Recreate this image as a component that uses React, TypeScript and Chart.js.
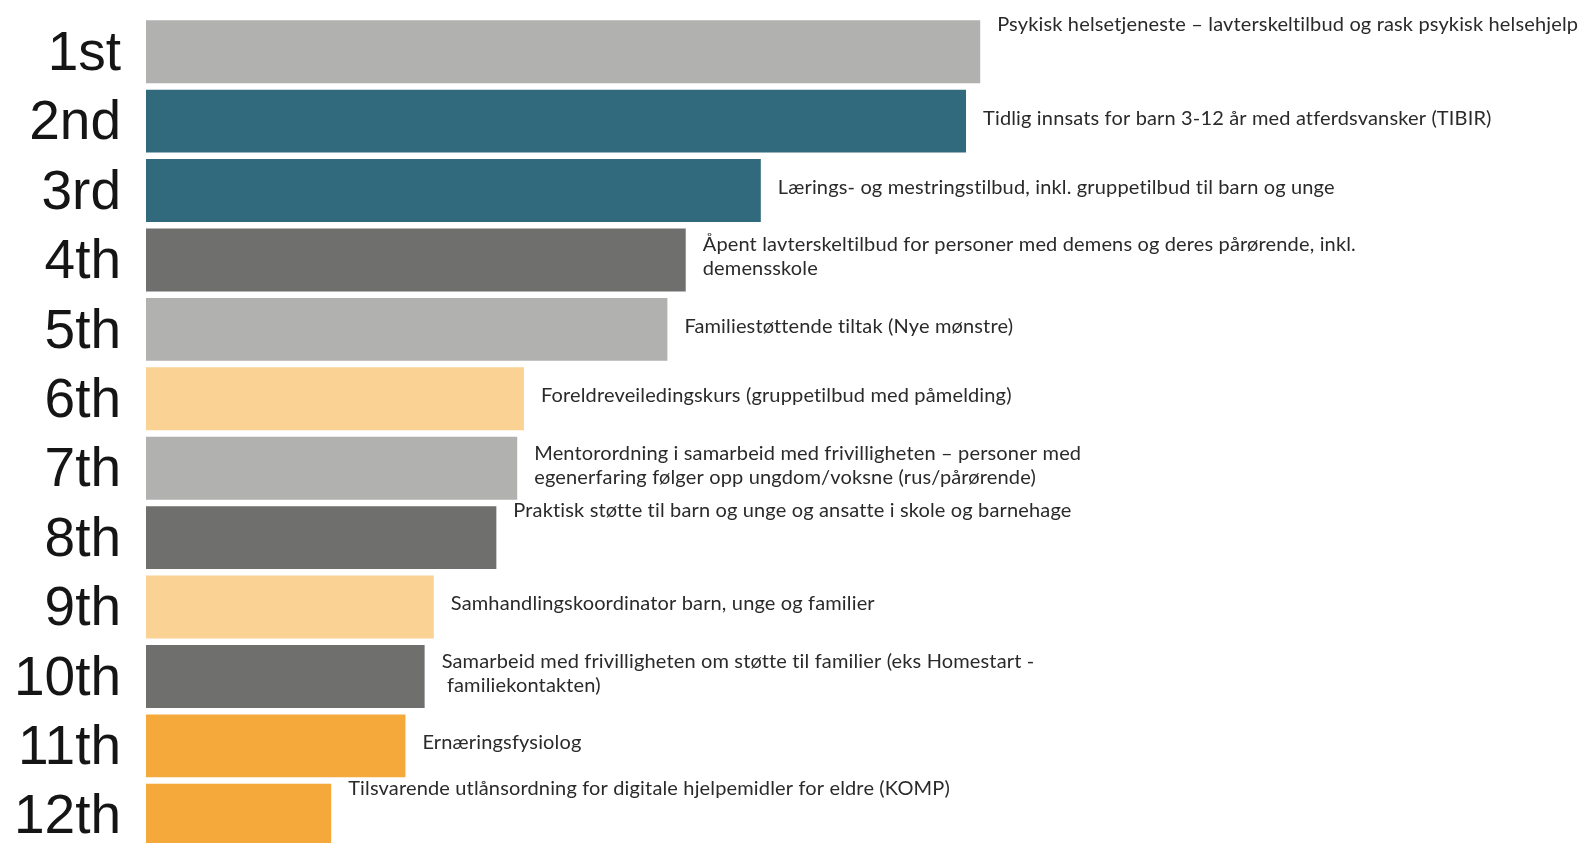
import React, { useEffect, useRef } from "react";
import { Chart, registerables } from "chart.js";

Chart.register(...registerables);

const categories = ["1st", "2nd", "3rd", "4th", "5th", "6th", "7th", "8th", "9th", "10th", "11th", "12th"];
const scores = [100, 98.3, 73.7, 64.7, 62.5, 45.3, 44.5, 42.0, 34.5, 33.4, 31.1, 22.2];
const barLabels: string[][] = [
  ["Psykisk helsetjeneste – lavterskeltilbud og rask psykisk helsehjelp", "", ""],
  ["Tidlig innsats for barn 3-12 år med atferdsvansker (TIBIR)"],
  ["Lærings- og mestringstilbud, inkl. gruppetilbud til barn og unge"],
  ["Åpent lavterskeltilbud for personer med demens og deres pårørende, inkl.", "demensskole"],
  ["Familiestøttende tiltak (Nye mønstre)"],
  ["Foreldreveiledingskurs (gruppetilbud med påmelding)"],
  ["Mentorordning i samarbeid med frivilligheten – personer med", "egenerfaring følger opp ungdom/voksne (rus/pårørende)"],
  ["Praktisk støtte til barn og unge og ansatte i skole og barnehage", "", ""],
  ["Samhandlingskoordinator barn, unge og familier"],
  ["Samarbeid med frivilligheten om støtte til familier (eks Homestart -", " familiekontakten)"],
  ["Ernæringsfysiolog"],
  ["Tilsvarende utlånsordning for digitale hjelpemidler for eldre (KOMP)", "", ""],
];
const barColors = [
  "#b1b1b0", "#316a7c", "#316a7c", "#6f6f6e", "#b1b1b0", "#f9d294",
  "#b1b1b0", "#6f6f6e", "#f9d294", "#6f6f6e", "#f4a93a", "#f4a93a",
];

const labelPlugin = {
  id: "barTextLabels",
  afterDatasetsDraw(chart: any) {
    const ctx = chart.ctx as CanvasRenderingContext2D;
    const meta = chart.getDatasetMeta(0);
    ctx.save();
    ctx.font = "20px Lato";
    (ctx as any).letterSpacing = "0.15px";
    ctx.fillStyle = "#2a2a2a";
    ctx.textAlign = "left";
    ctx.textBaseline = "middle";
    const lh = 24;
    meta.data.forEach((bar: any, i: number) => {
      const lines = barLabels[i];
      const n = lines.length;
      lines.forEach((line, j) => {
        const y = bar.y - 3 + (j - (n - 1) / 2) * lh;
        ctx.fillText(line, bar.x + 17, y);
      });
    });
    ctx.restore();
  },
};

export default function App() {
  const ref = useRef<HTMLCanvasElement>(null);
  useEffect(() => {
    if (!ref.current) return;
    const chart = new Chart(ref.current, {
      type: "bar",
      data: {
        labels: categories,
        datasets: [
          {
            data: scores,
            backgroundColor: barColors,
            borderWidth: 0,
            barPercentage: 0.907,
            categoryPercentage: 1,
          },
        ],
      },
      options: {
        indexAxis: "y",
        animation: false,
        responsive: false,
        maintainAspectRatio: false,
        layout: { padding: { top: 17, bottom: 0, right: 8, left: 0 } },
        plugins: {
          legend: { display: false },
          tooltip: { enabled: false },
          title: { display: false },
        },
        scales: {
          x: { display: false, min: 0, max: 171.3 },
          y: {
            grid: { display: false, drawTicks: false },
            border: { display: false },
            ticks: {
              autoSkip: false,
              padding: 25,
              labelOffset: 3,
              color: "#151515",
              font: { family: "'Liberation Sans', Arial, sans-serif", size: 55 },
            },
            afterFit(scale: any) {
              scale.width = 146;
              scale.paddingTop = 0;
              scale.paddingBottom = 0;
            },
          },
        },
      },
      plugins: [labelPlugin],
    });
    return () => chart.destroy();
  }, []);
  return (
    <div style={{ position: "fixed", left: 0, top: 0, width: 1583, height: 843, background: "#fff", overflow: "hidden" }}>
      <canvas ref={ref} width={1583} height={850} style={{ width: 1583, height: 850, display: "block" }} />
    </div>
  );
}
